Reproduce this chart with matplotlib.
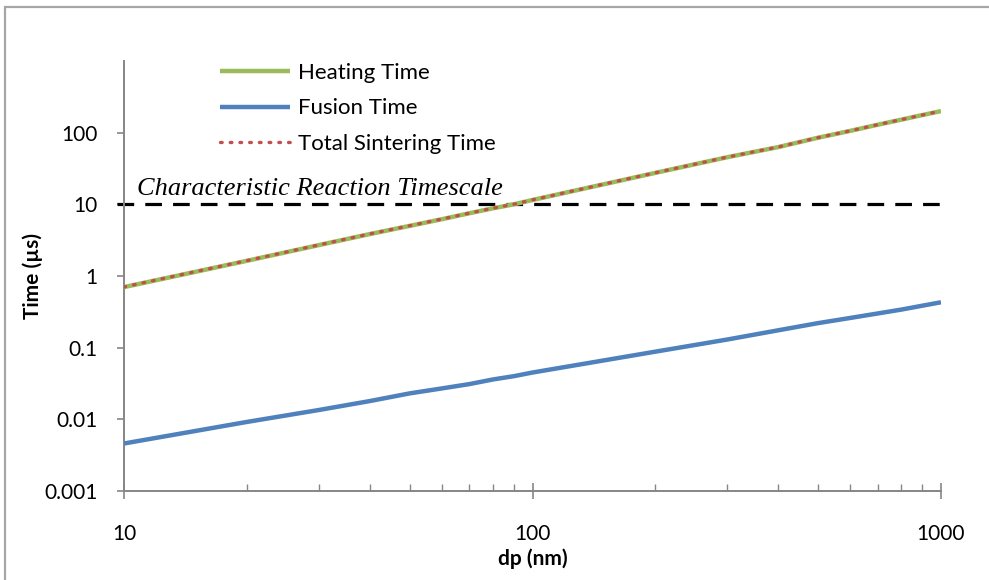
import matplotlib
matplotlib.use("Agg")
import matplotlib.pyplot as plt
from matplotlib.patches import Rectangle
from matplotlib.transforms import blended_transform_factory
from matplotlib.ticker import LogLocator, NullFormatter, FixedLocator, FixedFormatter

plt.rcParams['font.family'] = ['Lato', 'DejaVu Sans']
plt.rcParams['lines.scale_dashes'] = False

# ---- data ----
dp_nm = [10, 20, 30, 40, 50, 60, 70, 80, 90, 100,
         200, 300, 400, 500, 600, 700, 800, 900, 1000]
heating_time = [0.70, 1.63, 2.70, 3.85, 5.0, 6.2, 7.5, 8.8, 10.0, 11.5,
                27.5, 45.5, 63.0, 85.0, 106.0, 129.0, 152.0, 176.0, 200.0]
fusion_time = [0.0046, 0.0092, 0.0135, 0.018, 0.023, 0.027, 0.031, 0.036, 0.040, 0.045,
               0.088, 0.13, 0.175, 0.22, 0.26, 0.30, 0.34, 0.385, 0.43]
total_time = [h + f for h, f in zip(heating_time, fusion_time)]
reaction_timescale = 10
x_ticks = [10, 100, 1000]
x_tick_labels = ['10', '100', '1000']
y_ticks = [0.001, 0.01, 0.1, 1, 10, 100]
y_tick_labels = ['0.001', '0.01', '0.1', '1', '10', '100']
series_labels = ['Heating Time', 'Fusion Time', 'Total Sintering Time']

W, H = 989, 580
fig = plt.figure(figsize=(W / 100, H / 100), dpi=100)
ax = fig.add_axes([124 / W, 1 - 491 / H, (941 - 124) / W, (491 - 61) / H])

axis_col = '#868686'
green = '#9BBB59'
blue = '#4F81BD'
red = '#C0504D'

l1, = ax.plot(dp_nm, heating_time, color=green, lw=3.2, solid_capstyle='butt', zorder=3)
l2, = ax.plot(dp_nm, fusion_time, color=blue, lw=3.2, solid_capstyle='butt', zorder=3)
l3, = ax.plot(dp_nm, total_time, color=red, lw=2.4, dashes=(1.2, 5.8),
              dash_capstyle='round', zorder=4)

ax.axhline(reaction_timescale, xmin=-0.008, xmax=1, color='black', lw=2.3,
           dashes=(12.0, 8.0), clip_on=False, zorder=2)
tr = blended_transform_factory(fig.transFigure, ax.transData)
ax.text(137 / W, 13.6, 'Characteristic Reaction Timescale', family='Liberation Serif',
        style='italic', fontsize=19, color='black', ha='left', va='baseline',
        transform=tr)

ax.set_xscale('log')
ax.set_yscale('log')
ax.set_xlim(10, 1000)
ax.set_ylim(0.001, 1000)

ax.xaxis.set_major_locator(FixedLocator(x_ticks))
ax.xaxis.set_major_formatter(FixedFormatter(x_tick_labels))
ax.xaxis.set_minor_locator(LogLocator(base=10, subs=range(2, 10)))
ax.xaxis.set_minor_formatter(NullFormatter())
ax.yaxis.set_major_locator(FixedLocator(y_ticks))
ax.yaxis.set_major_formatter(FixedFormatter(y_tick_labels))
ax.yaxis.set_minor_locator(FixedLocator([]))

for s in ['top', 'right']:
    ax.spines[s].set_visible(False)
for s in ['left', 'bottom']:
    ax.spines[s].set_color(axis_col)
    ax.spines[s].set_linewidth(1.4)

ax.tick_params(axis='x', which='major', direction='inout', length=11, width=1.2,
               color=axis_col, pad=18.5, labelsize=15, labelcolor='black')
ax.tick_params(axis='x', which='minor', direction='in', length=5, width=1.0, color=axis_col)
ax.tick_params(axis='y', which='major', direction='out', length=5, width=1.2,
               color=axis_col, pad=14, labelsize=15, labelcolor='black')

ax.set_xlabel('dp (nm)', fontsize=15, fontweight='bold')
ax.set_ylabel('Time (µs)', fontsize=15, fontweight='bold')
ax.xaxis.set_label_coords(0.5, (491 - 548) / 430)
ax.yaxis.set_label_coords((43 - 124) / 817, 0.5)

leg = ax.legend([l1, l2, l3], series_labels, loc='upper left',
                bbox_to_anchor=(220 / W, 1 - 63 / H), bbox_transform=fig.transFigure,
                frameon=False, fontsize=16, handlelength=3.15, handletextpad=0.36,
                labelspacing=0.69, borderpad=0, borderaxespad=0)

fig.patches.append(Rectangle((5 / W, -0.1), 1.2, 1.1 - 7 / H, transform=fig.transFigure,
                             fill=False, edgecolor='#a6a6a6', lw=1.6))

fig.savefig('out.png', dpi=100)
